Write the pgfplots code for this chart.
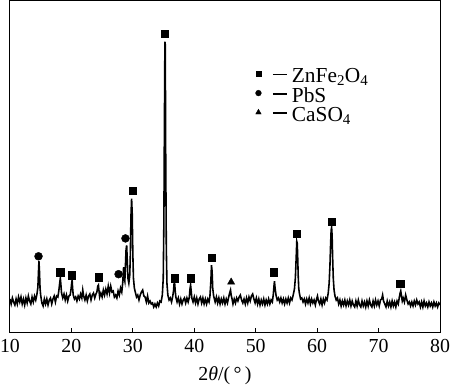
\documentclass[border=0pt]{standalone}
\usepackage{pgfplots}
\pgfplotsset{compat=1.18}
\usepackage{fontspec}
\setmainfont{Liberation Serif}
\pgfplotstableread{
x y
10.0 34
10.2 29
10.4 35
10.6 31
10.8 28
11.0 34
11.2 29
11.4 36
11.6 31
11.8 36
12.0 29
12.2 34
12.4 28
12.6 35
12.8 30
13.0 37
13.2 32
13.4 29
13.6 36
13.8 31
14.0 37
14.2 33
14.4 39
14.55 46
14.65 62
14.72 72
14.8 63
14.9 45
15.0 38
15.1 34
15.2 30
15.4 27
15.6 34
15.8 29
16.0 34
16.2 28
16.4 33
16.6 35
16.8 29
17.0 34
17.2 37
17.4 31
17.6 37
17.8 36
17.95 42
18.1 50
18.2 55
18.3 48
18.4 40
18.6 35
18.8 39
19.0 33
19.2 38
19.4 32
19.6 37
19.8 38
19.95 44
20.05 50
20.12 53
20.2 45
20.3 38
20.5 34
20.7 36
20.9 32
21.1 37
21.3 34
21.5 39
21.7 35
21.85 43
22.0 37
22.2 33
22.4 38
22.6 32
22.8 37
23.0 39
23.2 33
23.4 38
23.6 40
23.8 35
24.0 39
24.15 41
24.3 47
24.4 48
24.5 42
24.6 36
24.8 40
25.0 36
25.2 43
25.4 38
25.6 44
25.8 39
26.0 47
26.2 40
26.4 47
26.6 41
26.8 42
27.0 36
27.2 38
27.4 35
27.6 42
27.8 38
28.0 45
28.2 41
28.35 50
28.5 66
28.6 55
28.7 52
28.8 68
28.9 84
29.0 88
29.1 72
29.2 55
29.35 50
29.5 58
29.6 80
29.7 118
29.8 135
29.9 120
30.0 80
30.1 55
30.25 45
30.4 41
30.6 36
30.8 38
31.0 33
31.2 38
31.4 41
31.6 43
31.8 37
32.0 36
32.2 31
32.4 37
32.6 30
32.8 32
33.0 29
33.2 30
33.4 26
33.6 29
33.8 26
34.0 30
34.2 27
34.4 32
34.6 31
34.8 38
34.95 55
35.05 110
35.15 220
35.22 293
35.28 290
35.35 180
35.45 85
35.55 50
35.7 38
35.9 33
36.1 35
36.3 31
36.5 37
36.62 42
36.72 50
36.8 50
36.9 42
37.0 36
37.2 31
37.4 35
37.6 29
37.8 34
38.0 29
38.2 33
38.4 35
38.6 30
38.8 35
39.0 31
39.2 36
39.3 44
39.4 48
39.5 42
39.6 35
39.8 31
40.0 36
40.2 30
40.4 35
40.6 29
40.8 34
41.0 36
41.2 30
41.4 35
41.6 29
41.8 34
42.0 29
42.2 34
42.4 31
42.55 37
42.7 52
42.8 68
42.9 62
43.0 45
43.15 37
43.4 31
43.6 36
43.8 30
44.0 35
44.2 29
44.4 34
44.6 30
44.8 35
45.0 29
45.2 34
45.4 30
45.6 36
45.8 41
45.9 43
46.0 38
46.15 34
46.3 29
46.5 34
46.7 30
46.9 35
47.1 32
47.3 36
47.5 38
47.7 33
47.9 30
48.1 34
48.3 29
48.5 35
48.7 30
48.9 36
49.1 32
49.3 37
49.5 39
49.7 34
49.9 30
50.1 35
50.3 29
50.5 34
50.7 28
50.9 33
51.1 29
51.3 34
51.5 28
51.7 33
51.9 29
52.1 34
52.3 29
52.5 33
52.7 31
52.85 38
52.97 47
53.05 52
53.15 45
53.3 38
53.5 33
53.7 35
53.9 31
54.1 35
54.3 30
54.5 34
54.7 29
54.9 34
55.1 30
55.3 35
55.5 30
55.7 35
55.9 33
56.1 38
56.3 44
56.45 55
56.58 75
56.68 92
56.76 90
56.84 74
56.92 56
57.0 45
57.1 40
57.3 34
57.5 35
57.7 31
57.9 34
58.1 29
58.3 34
58.5 30
58.7 35
58.9 29
59.1 34
59.3 30
59.5 33
59.7 28
59.9 34
60.05 37
60.2 32
60.4 29
60.6 34
60.8 28
61.0 34
61.2 30
61.4 35
61.6 33
61.8 40
61.95 50
62.08 68
62.18 88
62.27 103
62.35 106
62.43 98
62.52 75
62.62 55
62.75 43
62.9 37
63.1 33
63.3 35
63.5 29
63.7 33
63.9 27
64.1 32
64.3 28
64.5 33
64.7 27
64.9 32
65.1 28
65.3 33
65.5 27
65.7 32
65.9 28
66.1 26
66.3 32
66.5 27
66.7 33
66.9 28
67.1 26
67.3 32
67.5 27
67.7 31
67.9 26
68.1 32
68.3 27
68.5 33
68.7 28
68.9 26
69.1 32
69.3 27
69.5 33
69.7 28
69.9 32
70.1 27
70.3 33
70.5 34
70.65 38
70.8 32
71.0 29
71.2 26
71.4 32
71.6 27
71.8 31
72.0 26
72.2 32
72.4 27
72.6 31
72.8 26
73.0 32
73.2 29
73.35 35
73.5 40
73.6 42
73.7 38
73.85 32
74.0 35
74.2 31
74.4 38
74.6 33
74.8 29
75.0 31
75.2 27
75.4 31
75.6 27
75.8 32
76.0 28
76.2 33
76.4 29
76.6 31
76.8 26
77.0 31
77.2 26
77.4 32
77.6 27
77.8 30
78.0 26
78.2 31
78.4 27
78.6 30
78.8 26
79.0 31
79.2 27
79.4 30
79.6 26
79.8 30
80.0 28
}\xrd
\pgfplotstableread{
x y
18.19 61
20.1 58
24.43 56
29.92 143
35.2 301
36.75 55
39.4 55
42.83 76
52.9 61
56.7 100
62.35 112
73.5 49
}\sq
\pgfplotstableread{
x y
14.65 77
27.68 59
28.8 95
}\ci
\pgfplotstableread{
x y
46.0 51
}\tr
\begin{document}
\begin{tikzpicture}
\begin{axis}[
  scale only axis,
  width=433pt, height=334pt,
  xmin=10, xmax=80, ymin=0, ymax=334,
  xtick={10,20,...,80},
  ytick=\empty,
  xtick pos=bottom,
  tick align=inside,
  major tick length=5pt,
  axis line style={line width=1pt},
  every tick/.style={line width=0.9pt, black},
  /pgf/number format/assume math mode=true,
  ticklabel style={font=\fontsize{20}{24}\selectfont},
  xticklabel style={yshift=-3pt},
  xlabel={2\textit{θ}/(\,°\,)},
  xlabel style={font=\fontsize{20}{24}\selectfont, anchor=base, at={(axis description cs:0.5,0)}, yshift=-48pt},
  legend style={draw=none, fill=none, inner sep=0pt, at={(0.5577,0.7964)}, anchor=north west,
    nodes={inner sep=0pt, text height=14pt, text depth=5.5pt}, cells={anchor=base west},
    column sep=6pt, row sep=0pt, font=\fontsize{21.5}{26}\selectfont},
]
\addplot[black, line width=1.6pt, forget plot] table {\xrd};
\addplot[only marks, mark=square*, mark size=3.6pt, black, forget plot] table {\sq};
\addplot[only marks, mark=*, mark size=4pt, black, forget plot] table {\ci};
\addplot[only marks, mark=triangle*, mark size=4.2pt, black, forget plot] table {\tr};
\addlegendimage{legend image code/.code={\path[draw=none] (0pt,0pt) -- (17pt,0pt); \fill[black] plot[only marks, mark=square*, mark size=2.7pt] coordinates {(8.5pt,9pt)};}}
\addlegendentry{\rule[7.3pt]{14.7pt}{1.9pt}\hspace{4.5pt}ZnFe\textsubscript{2}O\textsubscript{4}}
\addlegendimage{legend image code/.code={\path[draw=none] (0pt,0pt) -- (17pt,0pt); \fill[black] plot[only marks, mark=*, mark size=2.9pt] coordinates {(8.5pt,9pt)};}}
\addlegendentry{\rule[7.3pt]{14.7pt}{1.9pt}\hspace{4.5pt}PbS}
\addlegendimage{legend image code/.code={\path[draw=none] (0pt,0pt) -- (17pt,0pt); \fill[black] plot[only marks, mark=triangle*, mark size=3.2pt] coordinates {(8.5pt,9pt)};}}
\addlegendentry{\rule[7.3pt]{14.7pt}{1.9pt}\hspace{4.5pt}CaSO\textsubscript{4}}
\end{axis}
\pgfresetboundingbox
\path[use as bounding box] ([xshift=-10pt,yshift=-52pt]current axis.south west) rectangle ([xshift=10pt,yshift=1pt]current axis.north east);
\end{tikzpicture}
\end{document}
